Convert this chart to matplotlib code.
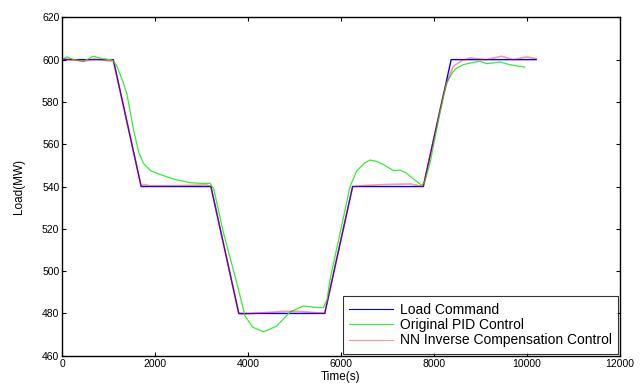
import matplotlib
matplotlib.use("Agg")
import matplotlib.pyplot as plt

plt.rcParams['font.family'] = ['Liberation Sans', 'DejaVu Sans']

# load command (s, MW)
cmd_t = [0, 1100, 1700, 3200, 3800, 5650, 6250, 7770, 8370, 10200]
cmd_v = [600, 600, 540, 540, 480, 480, 540, 540, 600, 600]

# original PID control
pid_t = [0, 100, 250, 458, 673, 850, 1032, 1100, 1176, 1300, 1391, 1534, 1650,
         1749, 1900, 2108, 2400, 2753, 3000, 3183, 3260, 3469, 3756, 3935,
         4100, 4330, 4616, 4903, 5190, 5477, 5620, 5700, 5763, 6000, 6194,
         6337, 6500, 6624, 6750, 6910, 7125, 7269, 7400, 7484, 7650, 7735,
         7800, 7914, 8129, 8272, 8400, 8487, 8631, 8800, 8989, 9133, 9300,
         9419, 9634, 9849, 9950]
pid_v = [600, 601.3, 600, 599.2, 601.6, 600.5, 600, 599.5, 597, 590, 584, 567,
         556, 551, 547.5, 545.7, 543.5, 541.8, 541.5, 541.5, 539, 518.2, 494.6,
         478.8, 473.5, 471.3, 474, 480.7, 483.5, 482.8, 482.8, 486.5, 496,
         520, 540, 547.3, 551, 552.5, 552, 550.4, 547.6, 547.7, 546.5, 544.9,
         542, 540.7, 542, 551, 574.8, 589, 594, 596, 597.6, 598.5, 599.2,
         598.1, 598.5, 598.9, 597.6, 596.8, 596.5]

# NN inverse compensation control
nn_t = [0, 200, 458, 700, 1032, 1100, 1700, 1750, 1900, 2500, 3100, 3200,
        3800, 3850, 4300, 4800, 5100, 5650, 6250, 6500, 7000, 7500, 7770,
        8200, 8300, 8416, 8600, 8774, 9133, 9455, 9706, 9993, 10194]
nn_v = [600.5, 600, 599.2, 600.3, 599.3, 599.5, 540, 541, 540.3, 540.4, 540.8,
        540, 480, 479.5, 480.3, 481, 481, 480, 540, 540.5, 541, 541.2, 540,
        583, 590.5, 596.8, 599.5, 600.8, 600, 601.6, 600, 601.3, 600.5]

fig = plt.figure(figsize=(6.41, 3.85), dpi=100)
ax = fig.add_axes([0.097, 0.076, 0.870, 0.879])

ax.plot(cmd_t, cmd_v, color='blue', lw=1.0, label='Load Command')
ax.plot(pid_t, pid_v, color='#33ee33', lw=0.9, label='Original PID Control')
ax.plot(nn_t, nn_v, color='red', lw=1.2, alpha=0.4, label='NN Inverse Compensation Control')

ax.set_xlim(0, 12000)
ax.set_ylim(460, 620)
ax.set_xticks(range(0, 12001, 2000))
ax.set_yticks(range(460, 621, 20))
ax.tick_params(direction='in', length=3, width=0.8, labelsize=7.5,
               top=True, right=True, pad=2)
for s in ax.spines.values():
    s.set_linewidth(1.0)

ax.set_xlabel('Time(s)', fontsize=8.5, labelpad=2)
ax.set_ylabel('Load(MW)', fontsize=8.5, labelpad=12)

leg = ax.legend(loc='lower right', fontsize=10, frameon=True, fancybox=False,
                borderaxespad=0.15, handlelength=3.2, handletextpad=0.45,
                labelspacing=0.1, borderpad=0.45, edgecolor='black')
leg.get_frame().set_linewidth(0.8)
for h in leg.get_lines():
    h.set_linewidth(0.8)

fig.savefig('out.png', dpi=100)
